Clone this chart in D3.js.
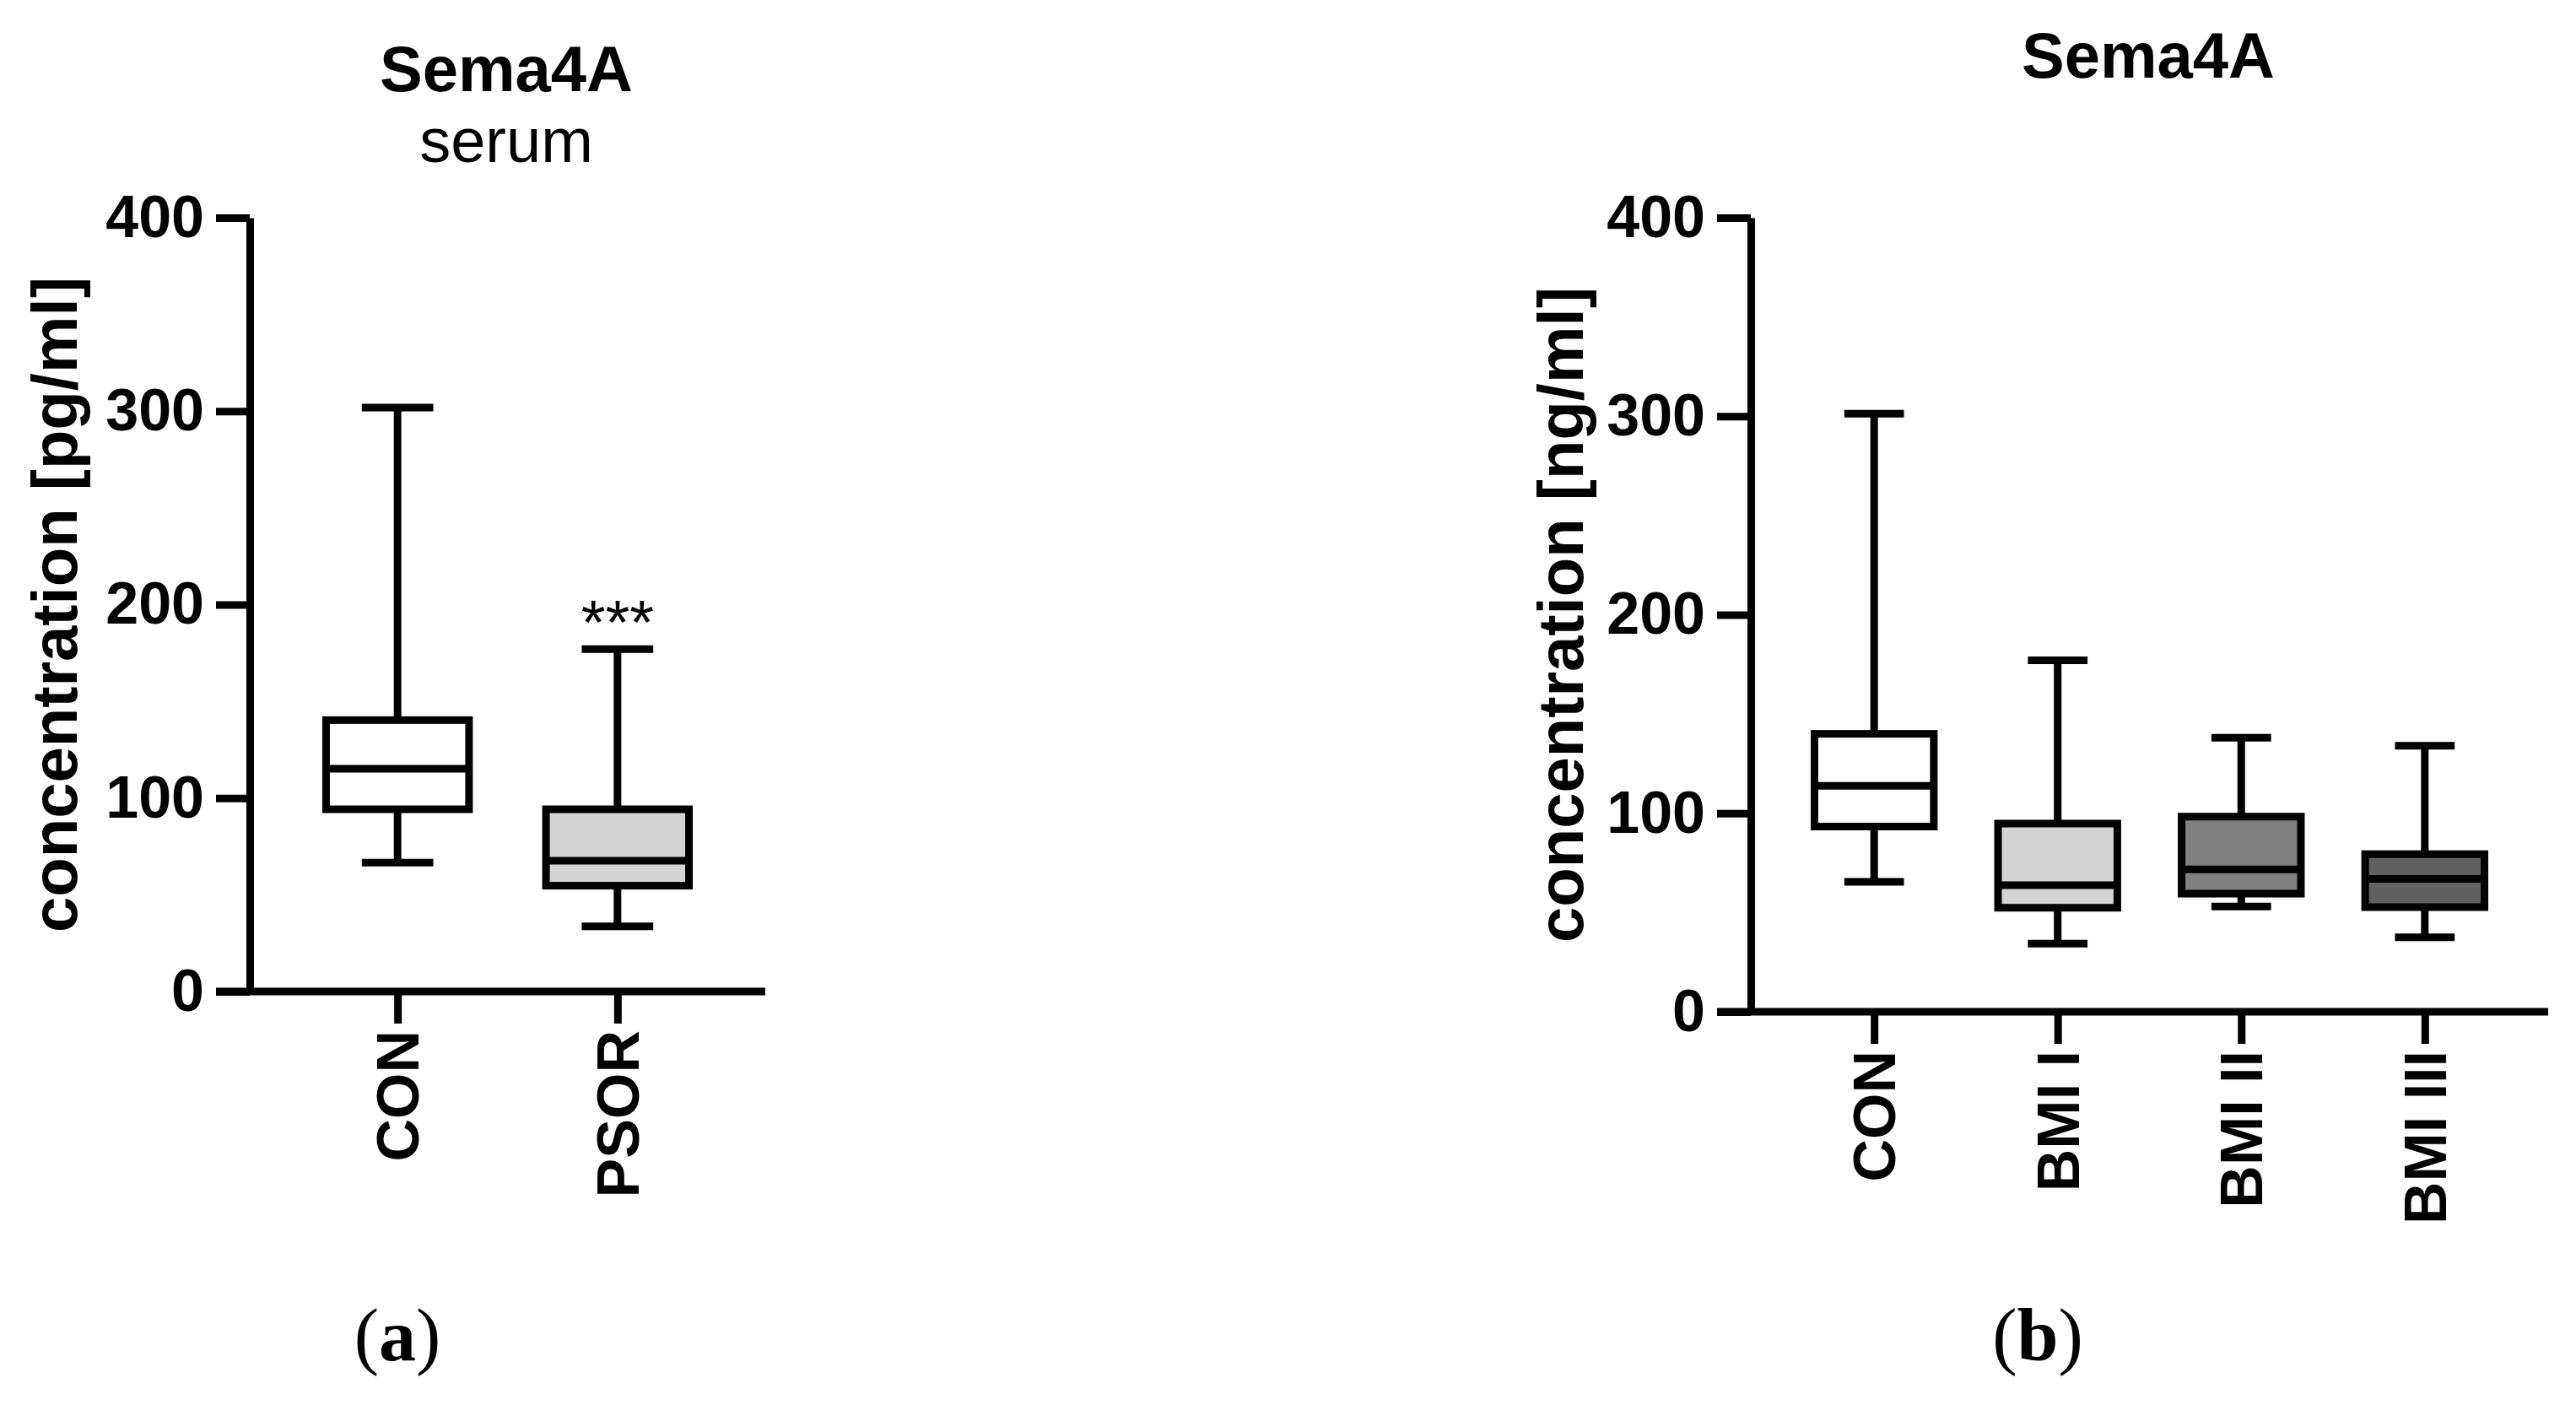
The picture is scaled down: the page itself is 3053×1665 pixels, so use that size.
<!DOCTYPE html>
<html>
<head>
<meta charset="utf-8">
<script src="https://cdn.jsdelivr.net/npm/d3@7"></script>
<style>
  body { margin: 0; background: #fff; }
  svg { display: block; }
  text { font-family: "Liberation Sans", Arial, sans-serif; fill: #000; }
</style>
</head>
<body>
<svg width="3053" height="1665"></svg>
<script>
// panel (a): serum, CON vs PSOR
const catsA = ['CON', 'PSOR'];
const minA = [66.6, 33.7];
const q1A = [94.2, 54.7];
const medA = [115.2, 67.6];
const q3A = [140.3, 94.2];
const maxA = [301.8, 177];
const fillA = ['#ffffff', '#d4d4d4'];

// panel (b): CON vs BMI groups
const catsB = ['CON', 'BMI I', 'BMI II', 'BMI III'];
const minB = [65.5, 34.3, 53, 37.5];
const q1B = [93.3, 52.4, 59.5, 52.7];
const medB = [113.8, 63.8, 71.7, 66.9];
const q3B = [140, 94.8, 98.3, 79.4];
const maxB = [301.3, 177, 138, 134];
const fillB = ['#ffffff', '#d4d4d4', '#808080', '#616161'];

const yTicks = [0, 100, 200, 300, 400];

const svg = d3.select('svg');
const sw = 9;

const drawPanel = (p) => {
    const g = svg.append('g');
    const y = d3.scaleLinear().domain([0, 400]).range([p.bottom, p.top]);
    const x = d3.scalePoint().domain(p.cats).range([p.left, p.right]).padding(0.672);
    const step = x.step();
    const boxW = step * 0.65;
    const capW = boxW * 0.5;

    // y axis
    const yAxis = g.append('g')
        .attr('transform', 'translate(' + p.left + ',0)')
        .call(d3.axisLeft(y).tickValues(yTicks).tickSize(40).tickSizeOuter(0).tickPadding(14));
    yAxis.select('.domain').attr('stroke', '#000').attr('stroke-width', sw);
    yAxis.selectAll('.tick line').attr('stroke', '#000').attr('stroke-width', sw);
    yAxis.selectAll('.tick text')
        .style('font-size', '70px').style('font-weight', 'bold')
        .style('font-family', '"Liberation Sans", Arial, sans-serif')
        .attr('fill', '#000');

    // x axis
    const xAxis = g.append('g')
        .attr('transform', 'translate(0,' + p.bottom + ')')
        .call(d3.axisBottom(x).tickSize(38).tickSizeOuter(0).tickFormat(''));
    xAxis.select('.domain').remove();
    xAxis.selectAll('.tick line').attr('stroke', '#000').attr('stroke-width', sw);
    g.append('line')
        .attr('x1', p.left - 40).attr('x2', p.right)
        .attr('y1', p.bottom).attr('y2', p.bottom)
        .attr('stroke', '#000').attr('stroke-width', sw);

    // category labels, rotated
    g.selectAll('.cat').data(p.cats).enter().append('text')
        .attr('class', 'cat')
        .attr('transform', d => 'translate(' + (x(d) + 25) + ',' + (p.bottom + 46) + ') rotate(-90)')
        .attr('text-anchor', 'end')
        .style('font-size', '70px').style('font-weight', 'bold')
        .text(d => d);

    // boxes
    p.cats.forEach((c, i) => {
        const cx = x(c);
        const bg = g.append('g');
        bg.append('line')
            .attr('x1', cx).attr('x2', cx).attr('y1', y(p.max[i])).attr('y2', y(p.q3[i]))
            .attr('stroke', '#000').attr('stroke-width', sw);
        bg.append('line')
            .attr('x1', cx).attr('x2', cx).attr('y1', y(p.q1[i])).attr('y2', y(p.min[i]))
            .attr('stroke', '#000').attr('stroke-width', sw);
        bg.append('line')
            .attr('x1', cx - capW / 2).attr('x2', cx + capW / 2)
            .attr('y1', y(p.max[i])).attr('y2', y(p.max[i]))
            .attr('stroke', '#000').attr('stroke-width', sw);
        bg.append('line')
            .attr('x1', cx - capW / 2).attr('x2', cx + capW / 2)
            .attr('y1', y(p.min[i])).attr('y2', y(p.min[i]))
            .attr('stroke', '#000').attr('stroke-width', sw);
        bg.append('rect')
            .attr('x', cx - boxW / 2).attr('width', boxW)
            .attr('y', y(p.q3[i])).attr('height', y(p.q1[i]) - y(p.q3[i]))
            .attr('fill', p.fill[i]).attr('stroke', '#000').attr('stroke-width', sw);
        bg.append('line')
            .attr('x1', cx - boxW / 2).attr('x2', cx + boxW / 2)
            .attr('y1', y(p.med[i])).attr('y2', y(p.med[i]))
            .attr('stroke', '#000').attr('stroke-width', sw);
    });

    // y label
    g.append('text')
        .attr('transform', 'translate(' + p.ylabX + ',' + ((p.top + p.bottom) / 2) + ') rotate(-90)')
        .attr('text-anchor', 'middle')
        .style('font-size', '76px').style('font-weight', 'bold')
        .text(p.ylab);

    return { x: x, y: y };
};

const a = drawPanel({
    cats: catsA, min: minA, q1: q1A, med: medA, q3: q3A, max: maxA, fill: fillA,
    left: 296, right: 907, top: 258, bottom: 1175,
    ylab: 'concentration [pg/ml]', ylabX: 91
});

const b = drawPanel({
    cats: catsB, min: minB, q1: q1B, med: medB, q3: q3B, max: maxB, fill: fillB,
    left: 2075, right: 3020, top: 258, bottom: 1199,
    ylab: 'concentration [ng/ml]', ylabX: 1876
});

// significance stars over PSOR
svg.append('text')
    .attr('x', a.x('PSOR')).attr('y', a.y(maxA[1]) - 6)
    .attr('text-anchor', 'middle')
    .style('font-size', '74px')
    .text('***');

// titles
svg.append('text').attr('x', 600).attr('y', 108).attr('text-anchor', 'middle')
    .style('font-size', '76px').style('font-weight', 'bold').text('Sema4A');
svg.append('text').attr('x', 600).attr('y', 192).attr('text-anchor', 'middle')
    .style('font-size', '74px').text('serum');
svg.append('text').attr('x', 2546).attr('y', 92).attr('text-anchor', 'middle')
    .style('font-size', '76px').style('font-weight', 'bold').text('Sema4A');

// panel letters
const letters = [['a', 471], ['b', 2415]];
letters.forEach(l => {
    const t = svg.append('text').attr('x', l[1]).attr('y', 1612).attr('text-anchor', 'middle')
        .style('font-family', '"Liberation Serif", "Times New Roman", serif')
        .style('font-size', '88px');
    t.append('tspan').text('(');
    t.append('tspan').style('font-weight', 'bold').text(l[0]);
    t.append('tspan').text(')');
});
</script>
</body>
</html>
